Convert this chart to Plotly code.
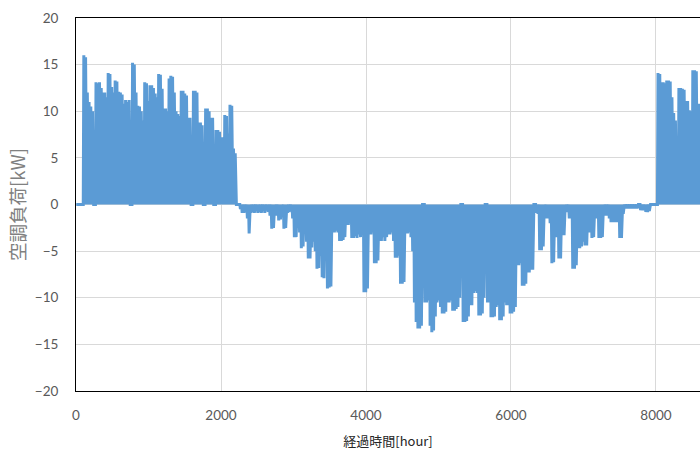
import plotly.graph_objects as go

# Daily peak air-conditioning load [kW] (heating +, cooling -)
jan_mar_peak_kw = [
    0, 0, 0, 0, 16.0, 15.8, 12.0, 11.0, 10.5, 10.0,
    0,
    13.1, 13.0, 13.1, 12.5, 12.0, 12.0, 11.5, 14.1, 14.0, 12.6, 12.0, 13.3, 13.2,
    12.1, 12.0, 11.8, 10.8, 11.2, 11.0, 11.2,
    0,
    15.2, 15.0, 12.0, 10.6, 10.5, 10.0, 9.0, 13.1, 13.0, 11.1, 12.8, 12.8, 12.5,
    11.9, 11.5, 14.0, 13.9, 12.4, 10.3, 10.3, 10.0, 13.5, 13.8, 13.7, 12.0, 10.0,
    9.7, 9.5, 12.2, 12.2, 11.9, 11.7, 9.3, 9.3,
    0,
    12.2, 12.2, 12.0, 8.8, 8.8, 8.5,
    0,
    10.3, 10.3, 10.0, 9.3, 9.3,
    0,
    8.0, 8.0, 7.8, 7.2, 7.2, 9.6, 9.5, 7.6, 10.7, 10.6, 6.0, 5.5,
    0,
]

apr_nov_peak_kw = [
    0,
    -0.5, -0.9, -0.9, -0.8, -1.5, -3.1, -0.9, -0.8, -0.9, -0.7, -0.9, -0.8, -0.9,
    -0.6, -0.9, -0.5, -0.8, -1.2, -2.6, -2.5, -1.0, -1.2, -1.7, -1.6, -1.0, -2.6,
    -2.5, -0.9, -0.8, -0.5, -1.5, -3.5, -3.5, -2.5, -3.0, -4.7, -4.5, -3.0, -4.0,
    -5.8, -5.8, -4.6, -4.0, -5.0, -6.9, -6.8, -5.5, -7.8, -7.9, -5.0, -9.0, -8.9,
    -8.8,
    -3.0, -3.0, -2.8, -3.0, -3.9, -3.9, -3.8, -3.5, -2.2, -2.2, -2.0, -3.6, -3.6,
    -3.4, -3.6, -3.2, -3.5, -3.0, -9.4, -9.4, -9.0, -3.2, -3.2, -3.0, -6.3, -6.3,
    -6.0, -3.9, -3.9, -3.5, -3.9, -3.5, -3.2, -3.2, -3.0, -3.9, -5.7, -5.7, -5.5,
    -8.5, -8.5, -8.3, -3.1, -3.1, -3.0, -3.5,
    -5.0, -10.5, -12.6, -13.3, -13.3, -13.0, 0, -10.5, -10.5, -10.3, -13.0, -13.7,
    -13.5, -12.0, -10.5, -10.3, -11.0, -11.7, -11.7, -11.5, -10.5, -10.5, -10.3,
    -11.4, -11.4, -11.2, -11.0, -10.0, 0, -12.6, -12.6, -12.5, -12.0, -10.8, -10.8,
    -9.5, -9.3, -9.5, -11.9, -11.9, -11.7, -10.0, 0, -10.5, -10.5, -12.1, -12.1,
    -12.0, -11.0, -10.8, -12.4, -12.4, -12.0, -10.5, -10.8, -10.8, -11.7, -11.7,
    -11.5, -11.0, -6.5, -6.5, -6.3, -8.7, -8.7, -8.5, -7.3, -7.3, -7.0, -7.0,
    0, -0.9, -1.0, -4.9, -4.9, -4.5, -1.2, -1.5, -1.5, -2.0, -6.3, -6.2, -3.0, -3.5,
    -5.8, -5.8, -3.3, -3.3, -0.8, -0.8, -1.5, -1.5, -6.9, -6.9, -6.5, -4.7, -4.7,
    -4.5, -4.0, -4.4, -4.4, -3.0, -3.0, -3.6, -3.5, -1.5, -1.5, -3.6, -3.6, -3.5,
    -1.2, -1.2, -1.2, -1.5, -1.9, -1.9, -1.9, -1.9, -1.9, -3.6, -3.6, -1.0, -0.4,
    -0.4, -0.4, -0.4, -0.4, -0.4, -0.4, -0.4, 0, -0.6, -0.6, -0.6, -0.8, -0.8, -0.7,
    0, 0, 0, 0,
]

dec_peak_kw = [
    14.1, 14.0, 13.1, 13.1, 13.0, 13.3, 13.3, 13.2, 11.5, 9.8, 9.0, 6.0, 12.5,
    12.5, 12.4, 12.3, 11.1, 11.1, 10.1, 10.0, 14.4, 14.4, 14.3, 10.8, 10.8, 10.5,
    12.0, 11.0, 10.0, 9.5, 9.0,
]

x_tick_vals = [0, 2000, 4000, 6000, 8000]
y_tick_vals = [-20, -15, -10, -5, 0, 5, 10, 15, 20]
x_title = "経過時間[hour]"
y_title = "空調負荷[kW]"

daily_peak = jan_mar_peak_kw + apr_nov_peak_kw + dec_peak_kw
hours, loads = [], []
for day, peak in enumerate(daily_peak):
    start = day * 24
    hours += [start + 4, start + 12, start + 20]
    loads += [0, peak, 0]

fig = go.Figure(
    go.Scatter(
        x=hours, y=loads, mode="lines",
        line=dict(color="#5B9BD5", width=3),
        hoverinfo="skip", showlegend=False,
    )
)

tick_font = dict(family="Lato, 'Noto Sans', sans-serif", size=13.5, color="#595959")

fig.update_layout(
    width=700, height=455,
    margin=dict(l=76, r=0, t=18, b=64),
    paper_bgcolor="white", plot_bgcolor="white",
    xaxis=dict(
        range=[0, 8607], tickvals=x_tick_vals,
        showgrid=True, gridcolor="#D9D9D9", gridwidth=1,
        zeroline=False,
        showline=True, linecolor="#000000", linewidth=1, mirror=True,
        ticks="", ticklabelstandoff=12,
        tickfont=tick_font,
        title=dict(text=x_title, standoff=14,
                   font=dict(family="'Noto Sans CJK JP', sans-serif", size=13, color="#262626")),
    ),
    yaxis=dict(
        range=[-20, 20], tickvals=y_tick_vals,
        showgrid=True, gridcolor="#D9D9D9", gridwidth=1,
        zeroline=False,
        showline=True, linecolor="#000000", linewidth=1, mirror=True,
        ticks="", ticklabelstandoff=14,
        tickfont=tick_font,
        title=dict(text=y_title, standoff=4,
                   font=dict(family="'Noto Sans CJK JP', sans-serif", size=18.5, color="#808080")),
    ),
)

fig.write_html("out.html")
